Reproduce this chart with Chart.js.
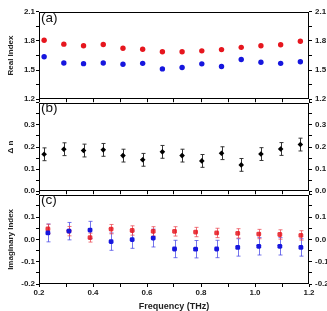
<!DOCTYPE html>
<html>
<head>
<meta charset="utf-8">
<script src="https://cdn.jsdelivr.net/npm/chart.js@4.4.1/dist/chart.umd.min.js"></script>
<style>
    html, body { margin: 0; padding: 0; background: #fff; }
    #wrap { position: relative; width: 327px; height: 311px; overflow: hidden; font-family: "Liberation Sans", Arial, sans-serif; }
    #wrap canvas { position: absolute; left: 0; }
    .tag { position: absolute; left: 41px; font-size: 13.5px; line-height: 1; color: #111; }
</style>
</head>
<body>
<div id="wrap">
    <canvas id="panelA" width="327" height="103" style="top:4px"></canvas>
    <canvas id="panelB" width="327" height="104" style="top:95px"></canvas>
    <canvas id="panelC" width="327" height="124" style="top:187px"></canvas>
    <div class="tag" style="top:11px">(a)</div>
    <div class="tag" style="top:101px">(b)</div>
    <div class="tag" style="top:193px">(c)</div>
</div>
<script>
// frequencies (THz) of panels (a),(b) and of panel (c)
const freqAB = [0.219, 0.292, 0.365, 0.438, 0.511, 0.584, 0.657, 0.730, 0.803, 0.876, 0.949, 1.022, 1.095, 1.168];
const freqC = [0.233, 0.311, 0.389, 0.467, 0.545, 0.623, 0.702, 0.780, 0.858, 0.936, 1.014, 1.092, 1.170];

// (a) real index
const realRed = [1.807, 1.767, 1.750, 1.764, 1.725, 1.715, 1.688, 1.688, 1.698, 1.711, 1.734, 1.750, 1.760, 1.797];
const realBlue = [1.637, 1.572, 1.566, 1.572, 1.560, 1.569, 1.512, 1.527, 1.564, 1.536, 1.609, 1.581, 1.569, 1.586];

// (b) delta n
const deltaN = [0.167, 0.190, 0.184, 0.187, 0.161, 0.142, 0.178, 0.161, 0.137, 0.172, 0.119, 0.168, 0.191, 0.211];
const deltaNErr = [0.029, 0.029, 0.029, 0.029, 0.029, 0.029, 0.029, 0.029, 0.029, 0.029, 0.029, 0.029, 0.029, 0.029];

// (c) imaginary index
const imagRed = [0.047, 0.037, 0.008, 0.046, 0.040, 0.036, 0.036, 0.033, 0.029, 0.027, 0.024, 0.022, 0.018];
const imagRedErr = [0.021, 0.021, 0.020, 0.021, 0.021, 0.021, 0.021, 0.021, 0.021, 0.021, 0.021, 0.021, 0.021];
const imagBlue = [0.029, 0.037, 0.042, -0.010, -0.001, 0.006, -0.043, -0.044, -0.043, -0.036, -0.031, -0.031, -0.036];
const imagBlueErr = [0.040, 0.039, 0.039, 0.039, 0.039, 0.040, 0.039, 0.039, 0.039, 0.039, 0.039, 0.039, 0.039];

const RED = 'rgb(230,22,30)';
const BLUE = 'rgb(22,22,222)';
const tickFont = { family: '"Liberation Sans", Arial, sans-serif', size: 8, weight: 'bold' };
const titleFont = { family: '"Liberation Sans", Arial, sans-serif', size: 8, weight: 'bold' };

const pts = (xs, ys) => xs.map((x, i) => ({ x: x, y: ys[i] }));

// error bars + frame
const panelPlugin = {
    id: 'panelDeco',
    beforeDatasetsDraw(chart) {
        const eb = chart.options.plugins.panelDeco.errs || [];
        const ctx = chart.ctx;
        ctx.save();
        eb.forEach((e, di) => {
            if (!e) return;
            const meta = chart.getDatasetMeta(di);
            const ys = chart.scales.y;
            ctx.strokeStyle = e.color;
            ctx.lineWidth = 1;
            meta.data.forEach((el, i) => {
                const v = chart.data.datasets[di].data[i].y;
                const x = Math.round(el.x) + 0.5;
                const top = ys.getPixelForValue(v + e.err[i]);
                const bot = ys.getPixelForValue(v - e.err[i]);
                ctx.beginPath();
                ctx.moveTo(x, top); ctx.lineTo(x, bot);
                ctx.moveTo(x - 2, top); ctx.lineTo(x + 2, top);
                ctx.moveTo(x - 2, bot); ctx.lineTo(x + 2, bot);
                ctx.stroke();
            });
        });
        ctx.restore();
    },
    afterDraw(chart) {
        const a = chart.chartArea;
        const ctx = chart.ctx;
        ctx.save();
        ctx.strokeStyle = '#000';
        ctx.lineWidth = 1;
        ctx.strokeRect(Math.round(a.left) + 0.5, Math.round(a.top) + 0.5, Math.round(a.right - a.left) - 1, Math.round(a.bottom - a.top) - 1);
        ctx.restore();
    }
};

function yAxis(pos, min, max, step, title, hideTop) {
    return {
        type: 'linear', position: pos, min: min, max: max,
        afterFit: s => { s.width = pos === 'left' ? 39 : 18; },
        ticks: {
            stepSize: step, autoSkip: false, color: '#222', font: tickFont, padding: pos === 'left' ? 1 : 3,
            callback: (v, i, arr) => (i % 2 === 0 && !(hideTop && i === arr.length - 1)) ? Number(v).toFixed(1) : ''
        },
        grid: { drawOnChartArea: false, tickLength: 3, tickColor: '#000' },
        border: { display: false },
        title: { display: !!title, text: title, color: '#222', font: titleFont, padding: { top: 6, bottom: 0 } }
    };
}

function makePanel(id, datasets, yMin, yMax, yStep, yTitle, hideTop, showX, errs) {
    const ctx = document.getElementById(id).getContext('2d');
    return new Chart(ctx, {
        type: 'scatter',
        data: { datasets: datasets },
        options: {
            responsive: false,
            animation: false,
            devicePixelRatio: 1,
            layout: { padding: { top: 6, left: 0, right: 0, bottom: 0 } },
            plugins: { legend: { display: false }, tooltip: { enabled: false }, panelDeco: { errs: errs } },
            scales: {
                x: {
                    type: 'linear', min: 0.2, max: 1.2,
                    afterFit: s => { s.height = showX ? 27 : 6; },
                    ticks: {
                        stepSize: 0.1, autoSkip: false, maxRotation: 0, display: showX, padding: 1,
                        color: '#222', font: tickFont,
                        callback: (v, i) => i % 2 === 0 ? Number(v).toFixed(1) : ''
                    },
                    grid: { drawOnChartArea: false, tickLength: 3, tickColor: '#000' },
                    border: { display: false },
                    title: { display: showX, text: 'Frequency (THz)', color: '#222',
                        font: { family: titleFont.family, size: 9, weight: 'bold', lineHeight: 1 }, padding: { top: 0, bottom: 0 } }
                },
                y: yAxis('left', yMin, yMax, yStep, yTitle, hideTop),
                y2: yAxis('right', yMin, yMax, yStep, '', hideTop)
            }
        },
        plugins: [panelPlugin]
    });
}

makePanel('panelA', [
    { data: pts(freqAB, realRed), backgroundColor: RED, borderWidth: 0, pointRadius: 2.7 },
    { data: pts(freqAB, realBlue), backgroundColor: BLUE, borderWidth: 0, pointRadius: 2.7 }
], 1.2, 2.1, 0.15, 'Real Index', false, false, []);

makePanel('panelB', [
    { data: pts(freqAB, deltaN), backgroundColor: '#000', borderWidth: 0, pointRadius: 2.8, pointStyle: 'rectRot' }
], 0, 0.4, 0.05, 'Δ n', true, false, [{ err: deltaNErr, color: '#333' }]);

makePanel('panelC', [
    { data: pts(freqC, imagBlue), backgroundColor: BLUE, borderWidth: 0, pointRadius: 2.8, pointStyle: 'rectRounded' },
    { data: pts(freqC, imagRed), backgroundColor: 'rgba(230,22,30,0.85)', borderWidth: 0, pointRadius: 2.8, pointStyle: 'rectRounded' }
], -0.2, 0.2, 0.05, 'Imaginary Index', true, true,
    [{ err: imagBlueErr, color: 'rgba(70,70,230,0.75)' }, { err: imagRedErr, color: 'rgba(235,70,80,0.75)' }]);
</script>
</body>
</html>
